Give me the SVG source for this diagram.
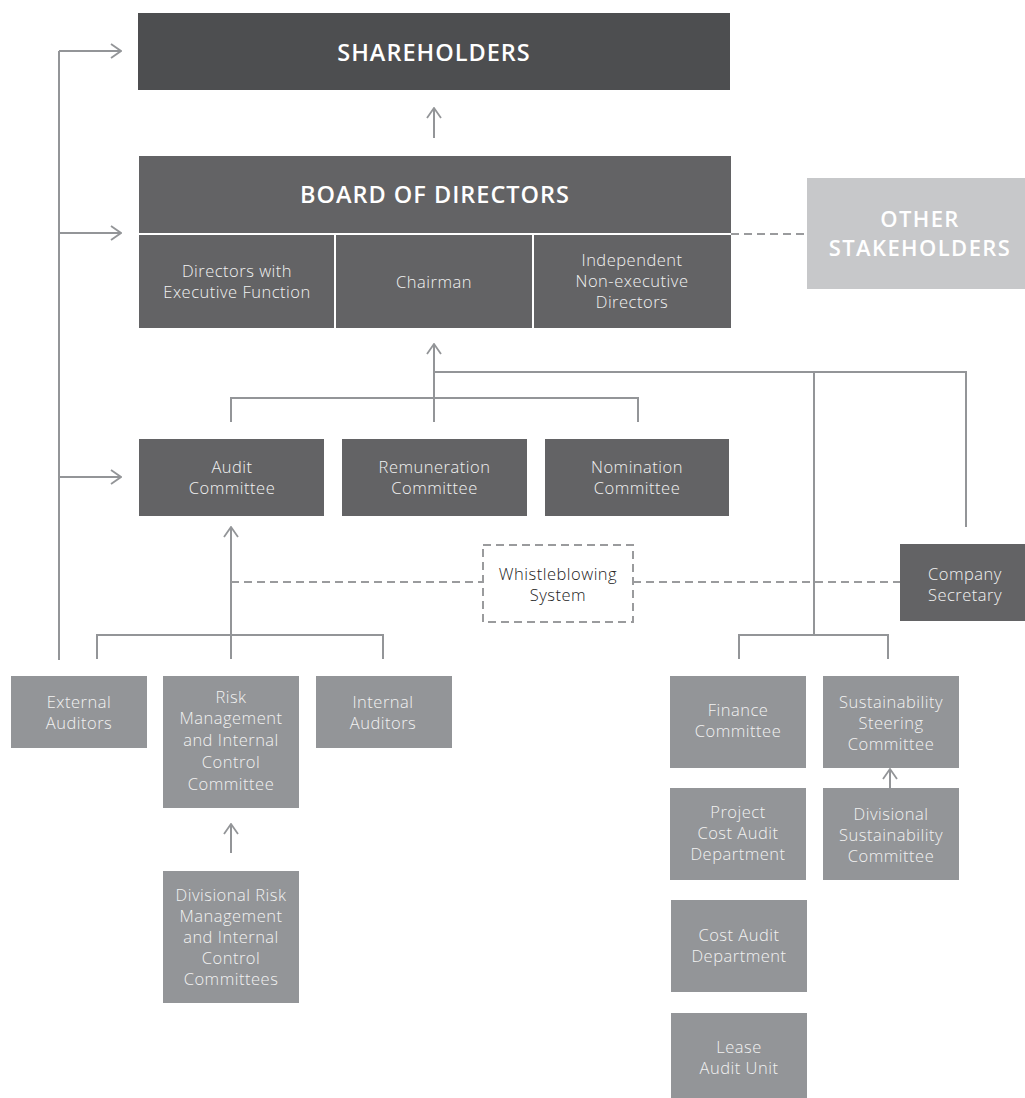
<svg xmlns="http://www.w3.org/2000/svg" width="1025" height="1098" viewBox="0 0 1025 1098">
<style>
text{font-family:"Open Sans","Liberation Sans",Arial,sans-serif;text-anchor:middle}
.t{font-size:23.5px;font-weight:600;fill:#ffffff;letter-spacing:1px}
.o{font-size:22px;font-weight:600;fill:#ffffff;letter-spacing:1.4px}
.s{font-size:16.5px;font-weight:300;fill:#f2f2f2;letter-spacing:0.5px}
.w{font-size:16.5px;font-weight:300;fill:#222222;letter-spacing:0.5px}
.dk{fill:#4d4e50}
.md{fill:#636365}
.lt{fill:#939598}
.xl{fill:#c7c8ca}
.ln{stroke:#939598;stroke-width:2;fill:none}
.dash{stroke:#9a9b9d;stroke-width:2;fill:none;stroke-dasharray:8 5}
.wl{stroke:#ffffff;stroke-width:2}
</style>
<defs>
<marker id="arr" viewBox="0 0 12 16" refX="11" refY="8" markerWidth="12" markerHeight="16" markerUnits="userSpaceOnUse" orient="auto">
<path d="M1,1 L11,8 L1,15" fill="none" stroke="#939598" stroke-width="1.8"/>
</marker>
</defs>

<g id="connectors">
<path class="ln" d="M59,51 V660"/>
<path class="ln" d="M59,51 H121" marker-end="url(#arr)"/>
<path class="ln" d="M59,233 H121" marker-end="url(#arr)"/>
<path class="ln" d="M59,477 H121" marker-end="url(#arr)"/>
<path class="ln" d="M434,138 V108" marker-end="url(#arr)"/>
<path class="ln" d="M434,422 V344" marker-end="url(#arr)"/>
<path class="ln" d="M231,422 V398 H638 V422"/>
<path class="ln" d="M434,372 H966 V527"/>
<path class="ln" d="M814,372 V635"/>
<path class="ln" d="M739,659 V635 H888 V659"/>
<path class="ln" d="M231,659 V527" marker-end="url(#arr)"/>
<path class="ln" d="M97,659 V635 H383 V659"/>
<path class="ln" d="M231,853 V824" marker-end="url(#arr)"/>
<path class="ln" d="M890,788 V769" marker-end="url(#arr)"/>
<path class="dash" d="M731,234 H807"/>
<path class="dash" d="M231,582 H483"/>
<path class="dash" d="M633,582 H900"/>
</g>

<g id="shareholders">
<rect class="dk" x="138" y="13" width="592" height="77"/>
<text class="t" x="434" y="61">SHAREHOLDERS</text>
</g>

<g id="board">
<rect class="md" x="139" y="156" width="592" height="172"/>
<line class="wl" x1="139" y1="234" x2="731" y2="234"/>
<line class="wl" x1="335" y1="234" x2="335" y2="328"/>
<line class="wl" x1="533" y1="234" x2="533" y2="328"/>
<text class="t" x="435" y="203">BOARD OF DIRECTORS</text>
<text class="s" x="237" y="277">Directors with</text>
<text class="s" x="237" y="298">Executive Function</text>
<text class="s" x="434" y="288">Chairman</text>
<text class="s" x="632" y="266">Independent</text>
<text class="s" x="632" y="287">Non-executive</text>
<text class="s" x="632" y="308">Directors</text>
</g>

<g id="other-stakeholders">
<rect class="xl" x="807" y="178" width="218" height="111"/>
<text class="o" x="920" y="227">OTHER</text>
<text class="o" x="920" y="256">STAKEHOLDERS</text>
</g>

<g id="audit-committee">
<rect class="md" x="139" y="439" width="185" height="77"/>
<text class="s" x="232" y="473">Audit</text>
<text class="s" x="232" y="494">Committee</text>
</g>
<g id="remuneration-committee">
<rect class="md" x="342" y="439" width="185" height="77"/>
<text class="s" x="434.5" y="473">Remuneration</text>
<text class="s" x="434.5" y="494">Committee</text>
</g>
<g id="nomination-committee">
<rect class="md" x="545" y="439" width="184" height="77"/>
<text class="s" x="637" y="473">Nomination</text>
<text class="s" x="637" y="494">Committee</text>
</g>

<g id="whistleblowing">
<rect x="483" y="545" width="150" height="77" fill="none" class="dash"/>
<text class="w" x="558" y="580">Whistleblowing</text>
<text class="w" x="558" y="601">System</text>
</g>

<g id="company-secretary">
<rect class="md" x="900" y="544" width="125" height="77"/>
<text class="s" x="965" y="580">Company</text>
<text class="s" x="965" y="601">Secretary</text>
</g>

<g id="external-auditors">
<rect class="lt" x="11" y="676" width="136" height="72"/>
<text class="s" x="79" y="708">External</text>
<text class="s" x="79" y="729">Auditors</text>
</g>
<g id="risk-management">
<rect class="lt" x="163" y="676" width="136" height="132"/>
<text class="s" x="231" y="703">Risk</text>
<text class="s" x="231" y="724">Management</text>
<text class="s" x="231" y="746">and Internal</text>
<text class="s" x="231" y="768">Control</text>
<text class="s" x="231" y="790">Committee</text>
</g>
<g id="internal-auditors">
<rect class="lt" x="316" y="676" width="136" height="72"/>
<text class="s" x="383" y="708">Internal</text>
<text class="s" x="383" y="729">Auditors</text>
</g>
<g id="divisional-risk">
<rect class="lt" x="163" y="871" width="136" height="132"/>
<text class="s" x="231" y="901">Divisional Risk</text>
<text class="s" x="231" y="922">Management</text>
<text class="s" x="231" y="943">and Internal</text>
<text class="s" x="231" y="964">Control</text>
<text class="s" x="231" y="985">Committees</text>
</g>

<g id="finance-committee">
<rect class="lt" x="670" y="676" width="136" height="92"/>
<text class="s" x="738" y="716">Finance</text>
<text class="s" x="738" y="737">Committee</text>
</g>
<g id="sustainability-steering">
<rect class="lt" x="823" y="676" width="136" height="92"/>
<text class="s" x="891" y="708">Sustainability</text>
<text class="s" x="891" y="729">Steering</text>
<text class="s" x="891" y="750">Committee</text>
</g>
<g id="project-cost-audit">
<rect class="lt" x="670" y="788" width="136" height="92"/>
<text class="s" x="738" y="818">Project</text>
<text class="s" x="738" y="839">Cost Audit</text>
<text class="s" x="738" y="860">Department</text>
</g>
<g id="divisional-sustainability">
<rect class="lt" x="823" y="788" width="136" height="92"/>
<text class="s" x="891" y="820">Divisional</text>
<text class="s" x="891" y="841">Sustainability</text>
<text class="s" x="891" y="862">Committee</text>
</g>
<g id="cost-audit">
<rect class="lt" x="671" y="900" width="136" height="92"/>
<text class="s" x="739" y="941">Cost Audit</text>
<text class="s" x="739" y="962">Department</text>
</g>
<g id="lease-audit">
<rect class="lt" x="671" y="1013" width="136" height="85"/>
<text class="s" x="739" y="1053">Lease</text>
<text class="s" x="739" y="1074">Audit Unit</text>
</g>
</svg>
